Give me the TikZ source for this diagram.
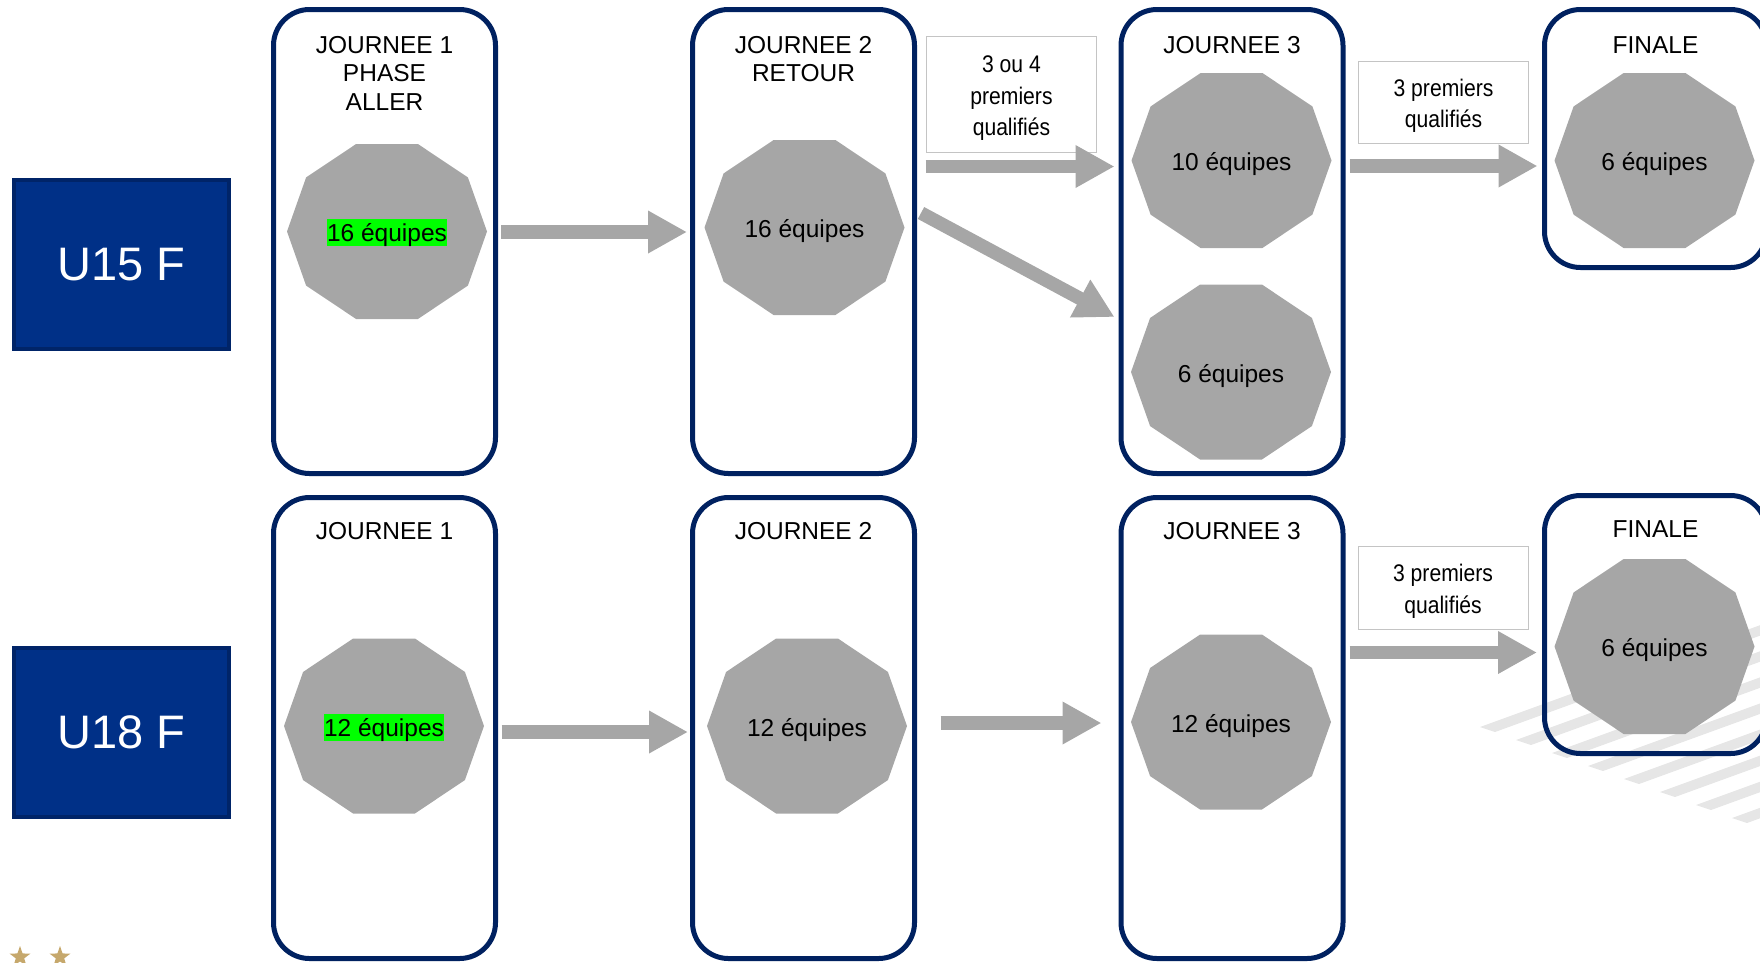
\documentclass[tikz,border=0pt]{standalone}
\usepackage{fontspec}
\setmainfont{Liberation Sans}
\newfontfamily\narrowfont{Liberation Sans}[FakeStretch=0.88]
\usepackage{tikz}
\usetikzlibrary{positioning}
\usetikzlibrary{calc, arrows.meta, shapes.geometric}

\definecolor{navy}{RGB}{0,33,96}
\definecolor{catblue}{RGB}{0,48,135}
\definecolor{catedge}{RGB}{0,36,104}
\definecolor{octogray}{RGB}{166,166,166}
\definecolor{flowgray}{RGB}{166,166,166}
\definecolor{notegray}{RGB}{196,196,196}
\definecolor{stripegray}{RGB}{230,230,230}
\definecolor{gold}{RGB}{198,168,108}
\definecolor{hlgreen}{RGB}{0,255,0}

\tikzset{
  journee/.style={draw=navy, line width=5pt, rounded corners=36pt, minimum width=222pt, inner sep=0pt},
  titre/.style={font=\fontsize{24.5}{28.5}\selectfont, align=center, inner sep=0pt},
  categorie/.style={fill=catblue, draw=catedge, line width=4pt, minimum width=215pt, minimum height=169pt, text=white, font=\fontsize{47}{56}\selectfont},
  equipes/.style={font=\fontsize{24.5}{28}\selectfont, inner sep=0pt, text height=22.5pt, text depth=4.5pt, yshift=-1pt},
  surligne/.style={fill=hlgreen},
  note/.style={draw=notegray, fill=white, line width=1pt, minimum width=170pt, align=center, font=\narrowfont\fontsize{24}{31.5}\selectfont, inner sep=0pt},
  flow/.style={draw=flowgray, line width=13.5pt, -{Triangle[width=40pt, length=39pt]}},
  etoile/.style={star, star points=5, star point ratio=2.5, fill=gold, minimum size=22pt, inner sep=0pt},
}

% decagon round a named centre
\newcommand{\decagone}[1]{%
  \fill[octogray] ($(#1)+(0:100 and 92)$)
    \foreach \a in {36,72,...,324}{ -- ($(#1)+(\a:100 and 92)$) } -- cycle;
}
% pushes the text of a note box a little down
\newcommand{\haut}{\rule{0pt}{24pt}}

\begin{document}
\begin{tikzpicture}[x=1pt, y=-1pt]
    \useasboundingbox (0,0) rectangle (1760,962);
    \clip (0,0) rectangle (1760,962);

    % background stripes
    \foreach \k in {0,...,7}{
        \fill[stripegray] ($(1480,727)+\k*(36,13)$) -- ++(15,5) -- ++(330,-120) -- ++(-15,-5) -- cycle;
    }

    % stars
    \node[etoile] (star1) at (20,957) {};
    \node[etoile] (star2) at (60,957) {};

    % categories
    \node[categorie] (u15) at (121.5,264.5) {U15 F};
    \node[categorie] (u18) at (121.5,732) {U18 F};

    % U15 F
    \begin{scope}
        \node[journee, minimum height=464pt] (j11) at (384.5,241.5) {};
        \node[journee, minimum height=464pt] (j12) at (803.5,241.5) {};
        \node[journee, minimum height=464pt] (j13) at (1232,241.5) {};
        \node[journee, minimum height=258pt] (f1) at (1655.5,138.5) {};

        \node[titre, below=29pt of j11.north] (t11) {JOURNEE 1\\PHASE\\ALLER};
        \node[titre, below=29pt of j12.north] (t12) {JOURNEE 2\\RETOUR};
        \node[titre, below=29pt of j13.north] (t13) {JOURNEE 3};
        \node[titre, below=29pt of f1.north] (tf1) {FINALE};

        \coordinate (c11) at (387,231.5);
        \coordinate (c12) at (804.5,227.5);
        \coordinate (c13a) at (1231.5,160.5);
        \coordinate (c13b) at (1231,372);
        \coordinate (cf1) at (1654.5,160.5);
        \decagone{c11}
        \decagone{c12}
        \decagone{c13a}
        \decagone{c13b}
        \decagone{cf1}
        \node[equipes, surligne] (e11) at (c11) {16 équipes};
        \node[equipes] (e12) at (c12) {16 équipes};
        \node[equipes] (e13a) at (c13a) {10 équipes};
        \node[equipes] (e13b) at (c13b) {6 équipes};
        \node[equipes] (ef1) at (cf1) {6 équipes};

        \node[note, minimum height=116pt] (n1) at (1011.5,94.5) {\haut 3 ou 4\\premiers\\qualifiés};
        \node[note, minimum height=82pt] (n2) at (1443.5,102.5) {\haut 3 premiers\\qualifiés};

        \draw[flow] ($(j11.east |- c11)+(3,0.5)$) -- ($(j12.west |- c11)+(-3,0.5)$);
        \draw[flow] ($(j12.east |- c13a)+(8.5,6)$) -- ($(j13.west |- c13a)+(-4,6)$);
        \draw[flow] ($(j12.east)+(4,-28.5)$) -- ($(j13.west)+(-4,75.5)$);
        \draw[flow] ($(j13.east |- cf1)+(4,5.5)$) -- ($(f1.west |- cf1)+(-4.5,5.5)$);
    \end{scope}

    % U18 F
    \begin{scope}
        \node[journee, minimum height=461pt] (j21) at (384.5,728) {};
        \node[journee, minimum height=461pt] (j22) at (803.5,728) {};
        \node[journee, minimum height=461pt] (j23) at (1232,728) {};
        \node[journee, minimum height=258pt] (f2) at (1655.5,624.5) {};

        \node[titre, below=27pt of j21.north] (t21) {JOURNEE 1};
        \node[titre, below=27pt of j22.north] (t22) {JOURNEE 2};
        \node[titre, below=27pt of j23.north] (t23) {JOURNEE 3};
        \node[titre, below=27pt of f2.north] (tf2) {FINALE};

        \coordinate (c21) at (384,726);
        \coordinate (c22) at (807,726);
        \coordinate (c23) at (1231,722);
        \coordinate (cf2) at (1654.5,646.5);
        \decagone{c21}
        \decagone{c22}
        \decagone{c23}
        \decagone{cf2}
        \node[equipes, surligne] (e21) at (c21) {12 équipes};
        \node[equipes] (e22) at (c22) {12 équipes};
        \node[equipes] (e23) at (c23) {12 équipes};
        \node[equipes] (ef2) at (cf2) {6 équipes};

        \node[note, minimum height=83pt] (n3) at (1443,588) {\haut 3 premiers\\qualifiés};

        \draw[flow] ($(j21.east |- c21)+(3.5,6)$) -- ($(j22.west |- c21)+(-2,6)$);
        \draw[flow] ($(j22.east |- c23)+(23.5,1)$) -- ($(j23.west |- c23)+(-17,1)$);
        \draw[flow] ($(j23.east |- cf2)+(4,6)$) -- ($(f2.west |- cf2)+(-5,6)$);
    \end{scope}
\end{tikzpicture}
\end{document}
